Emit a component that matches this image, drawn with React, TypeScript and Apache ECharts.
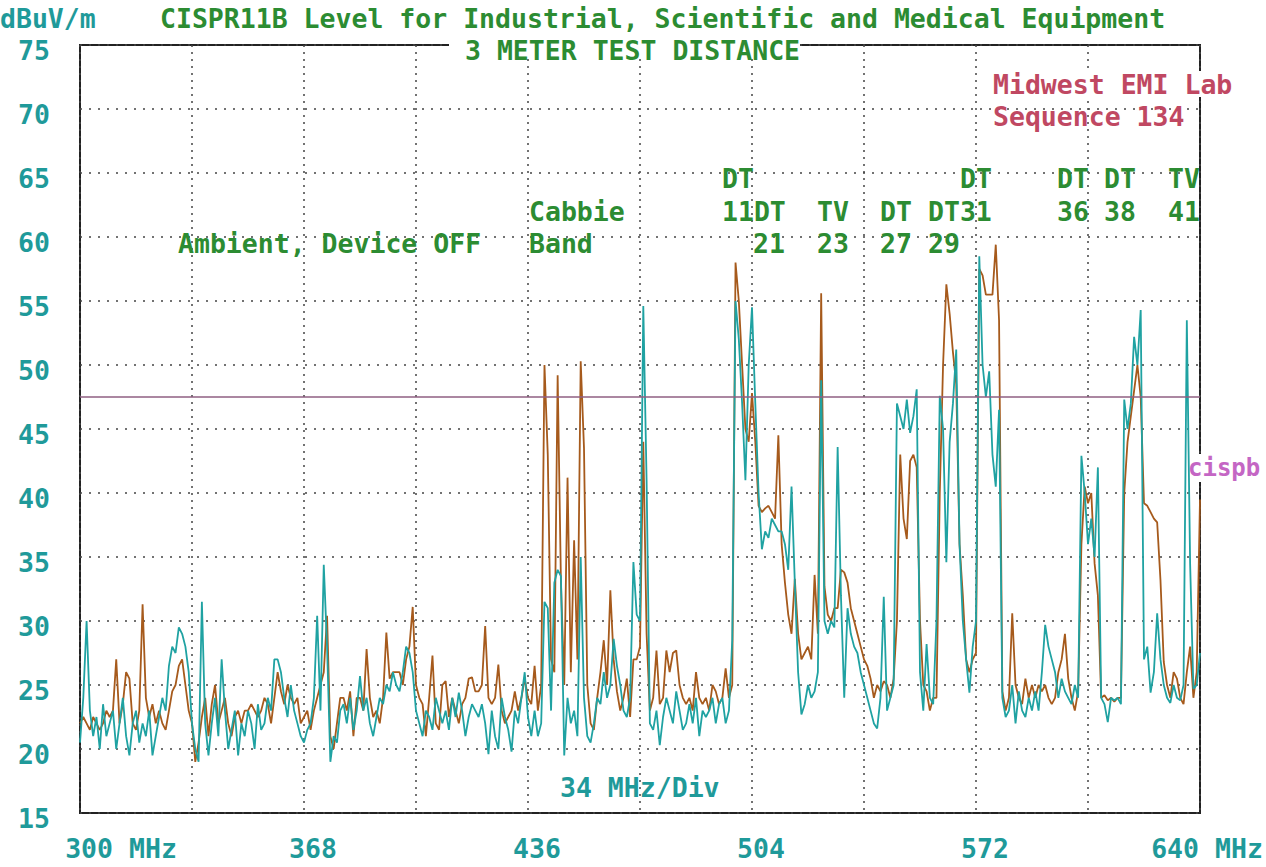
import React, { useEffect, useRef } from "react";
import * as echarts from "echarts";

// Sampling grid of the traces (MHz)
const START_MHZ = 300;
const STEP_MHZ = 1;

// Axis ticks
const X_MIN = 300;
const X_MAX = 640;
const X_DIV = 34;
const X_LABELED = [300, 368, 436, 504, 572, 640];
const Y_MIN = 15;
const Y_MAX = 75;
const Y_STEP = 5;

// CISPR 11 class B limit at 3 m (dBuV/m)
const LIMIT_DB = 47.5;

// Teal trace, one value per MHz from 300 to 640
const tealTrace = [
  20.5, 24, 30, 23, 21, 22.5, 20, 23.5, 21, 22,
  23, 20, 22, 24, 21, 19.5, 22, 23, 20.5, 22,
  21, 23, 19.5, 21, 22.5, 24, 23, 26.5, 28, 27.5,
  29.5, 29, 28, 26, 22, 20, 19, 31.5, 22, 19.5,
  22, 24, 21, 27, 23, 20, 21.5, 23, 19.5, 22,
  21, 23, 22, 20, 23.5, 21.5, 22, 24, 23, 27,
  27, 26, 24, 22.5, 25, 23, 22, 21, 20.5, 21.5,
  22, 24, 30.4, 23, 34.4, 28, 19, 21, 20.5, 23,
  23.5, 22, 24, 21.5, 23, 25.7, 23, 24, 22, 21,
  22.5, 24, 23.5, 25, 24.5, 26, 25, 24.5, 26, 28,
  27.5, 26, 23, 22, 21, 23, 22.5, 21.5, 24, 23,
  22, 23, 21.5, 24, 22.5, 24.4, 23, 21, 22.5, 23.5,
  23, 22.5, 23.5, 22, 19.6, 23, 21, 20, 24, 22.5,
  21.5, 19.8, 23, 22, 24, 26, 22.5, 21, 23, 21,
  22, 31.5, 31, 23, 33, 34, 33.5, 19.5, 24, 22,
  23, 21, 35, 24, 21, 20.5, 22, 24, 23.5, 26,
  24, 25, 28.6, 26.5, 25, 23, 22.5, 24, 34.6, 30.5,
  30, 54.6, 41, 22, 21.5, 23, 20.3, 22.5, 24, 23,
  22, 24.5, 23, 21.5, 22, 23.5, 22, 24, 21, 23,
  22.5, 23, 24, 22, 23.5, 24, 22, 23, 28.5, 55,
  52, 47, 41, 50, 54.5, 47, 40, 35.6, 37, 36.5,
  38, 37.5, 37, 37, 36, 34, 40.5, 33, 26, 22.7,
  23.5, 25, 24, 24.5, 26, 48.8, 30, 29, 30, 29.5,
  43.6, 32, 24, 31, 29, 28, 27.5, 26, 25, 24,
  23, 22, 21.6, 24, 31.9, 23, 24, 25, 47, 46,
  45, 47.3, 44.7, 46, 48.1, 26, 23, 28.2, 24, 23.5,
  30, 47.6, 45, 34.6, 44, 47, 51.2, 36, 30, 27,
  24.4, 28, 30, 58.5, 50, 47.5, 49.5, 43, 40.5, 46.5,
  24, 22.5, 23, 25, 22, 24.5, 23, 22.5, 24, 23,
  24.5, 23, 26, 29.7, 28, 27, 26, 24, 25.5, 24.5,
  24, 23.5, 25, 24, 42.9, 40, 36, 38, 35, 42,
  24, 23.5, 22.1, 24, 23.8, 24, 23.5, 47.3, 45, 47,
  52.2, 50, 54.3, 27, 28, 24.4, 26, 30.6, 27, 25,
  24, 23.6, 25, 24, 23.8, 25, 53.5, 34.5, 24.7, 25,
  27.5,
];

// Brown trace, one value per MHz from 300 to 640
const brownTrace = [
  22, 22.5, 22, 21.5, 22.5, 22, 21.5, 22, 23, 22.5,
  23, 27, 22, 23.5, 26, 25.5, 22, 21.5, 23, 31.3,
  24, 22.5, 23.5, 22, 23, 22, 21.5, 23, 24.5, 25,
  26.5, 27, 25, 23, 22, 19, 20.5, 22.5, 24, 21,
  23.5, 25, 22, 23, 24, 22, 21, 22.5, 23, 22,
  23, 23, 23.5, 23, 22.5, 23, 24, 23.5, 22, 24,
  26, 24.5, 23.5, 25, 24, 23.5, 24, 22, 22.5, 23,
  21.5, 23, 24, 25, 26, 30.4, 21, 20, 22, 24,
  24, 23, 24.5, 21, 24, 24, 23, 27.8, 24, 22.5,
  23, 22, 24, 29.1, 25.5, 26, 26, 26, 25, 27,
  28, 31.1, 25, 24, 23.5, 21, 24, 27.3, 22, 21.5,
  25, 25.3, 22.5, 24, 23, 22, 23.5, 24, 25.5, 25.6,
  24.5, 24.5, 25, 29.6, 24, 23.5, 24, 26.6, 23, 22,
  22.5, 23, 24.5, 23, 24, 25.5, 24, 23.5, 26.5, 23,
  25, 50, 43, 27, 26, 49.2, 33, 25, 41.2, 26,
  36.3, 27, 50.3, 43.5, 25, 22, 21.5, 24, 26, 28.5,
  25, 32.4, 27, 24.5, 23, 24, 25.5, 22.5, 27, 27,
  28, 44, 29, 23, 24, 27.7, 23.5, 24, 27.7, 26,
  27.5, 27.7, 25, 24, 23.5, 24, 23, 26, 24, 23.5,
  24, 23, 25, 24.5, 23.5, 24, 26.3, 24, 25, 58,
  55, 50, 45, 44, 47.8, 44, 39, 38.5, 38.8, 39,
  38.5, 38, 44.5, 36, 33, 30.5, 29, 33.3, 29, 27,
  27.5, 28, 27, 33.6, 29, 55.6, 32.7, 30.5, 30, 31,
  31, 34, 33.8, 33, 31, 30, 29, 28, 27, 26.5,
  25.5, 24, 25, 24.5, 25.3, 25, 24, 25.5, 30, 43,
  38, 36.4, 42.5, 43, 42, 30, 25, 24.5, 23, 24,
  24, 40, 50, 56.3, 54, 51, 48.5, 36, 32, 27,
  26, 27, 27.5, 57.5, 57, 55.5, 55.5, 55.5, 59.4, 53.5,
  24.5, 23, 24, 30.6, 25, 24, 23.5, 25.5, 24, 25,
  24, 25, 24.5, 25, 24, 23.5, 24, 26, 27, 29,
  25.5, 24, 23, 24.5, 36, 40.5, 39.2, 40, 34.5, 32,
  24, 24.2, 23.8, 24, 23.7, 24, 24, 40, 44, 46,
  48, 50, 47.5, 39.2, 39, 38.5, 38, 37.7, 33.2, 26.8,
  25, 24, 26, 25.5, 24, 23.5, 26, 28, 24, 26,
  39.5,
];

const FONT = '"DejaVu Sans Mono", monospace';
const FS = 26.5;
const FW = "bold";
const GREEN = "#2c8c32";
const TEAL_TXT = "#1f9a9a";
const ROSE = "#c04862";
const MAGENTA = "#c466c4";

export default function App() {
  const ref = useRef<HTMLDivElement>(null);

  useEffect(() => {
    document.body.style.margin = "0";
    const chart = echarts.init(ref.current!, null, { renderer: "svg" });
    const toPairs = (arr: number[]) =>
      arr.map((v, i) => [START_MHZ + i * STEP_MHZ, v]);

    const txt = (text: string, x: number, y: number, fill: string, size = FS) => ({
      type: "text",
      x,
      y,
      z: 20,
      style: {
        text,
        fill,
        font: `${FW} ${size}px ${FONT}`,
        align: "left",
        verticalAlign: "middle",
      },
    });
    const bg = (x: number, y: number, w: number, h: number) => ({
      type: "rect",
      z: 15,
      shape: { x, y, width: w, height: h },
      style: { fill: "#ffffff" },
    });
    const lbl = (pad: number) => ({
      color: TEAL_TXT,
      fontFamily: FONT,
      fontSize: FS,
      fontWeight: FW,
      padding: [0, 0, 0, pad],
    });

    chart.setOption({
      animation: false,
      backgroundColor: "#ffffff",
      grid: {
        left: 80,
        right: 66,
        top: 45,
        bottom: 54,
        show: true,
        borderColor: "#222222",
        borderWidth: 2,
        backgroundColor: "transparent",
        containLabel: false,
        outerBoundsMode: "none",
      },
      xAxis: {
        type: "value",
        min: X_MIN,
        max: X_MAX,
        interval: X_DIV,
        axisLine: { show: false },
        axisTick: { show: false },
        splitLine: {
          show: true,
          lineStyle: { color: "#444444", width: 1.5, type: [2, 5] },
        },
        axisLabel: {
          margin: 22,
          color: TEAL_TXT,
          fontFamily: FONT,
          fontSize: FS,
          fontWeight: FW,
          showMinLabel: true,
          showMaxLabel: true,
          hideOverlap: false,
          formatter: (v: number) => {
            const r = Math.round(v);
            if (r === X_LABELED[0]) return `{a|${r} MHz}`;
            if (r === X_LABELED[X_LABELED.length - 1]) return `{b|${r} MHz}`;
            if (X_LABELED.includes(r)) return `{c|${r}}`;
            return "";
          },
          rich: { a: lbl(82), b: lbl(14), c: lbl(18) },
        },
      },
      yAxis: {
        type: "value",
        min: Y_MIN,
        max: Y_MAX,
        interval: Y_STEP,
        axisLine: { show: false },
        axisTick: { show: false },
        splitLine: {
          show: true,
          lineStyle: { color: "#444444", width: 1.5, type: [2, 7] },
        },
        axisLabel: {
          margin: 30,
          color: TEAL_TXT,
          fontFamily: FONT,
          fontSize: FS,
          fontWeight: FW,
          formatter: (v: number) => `{v|${Math.round(v)}}`,
          rich: {
            v: {
              color: TEAL_TXT,
              fontFamily: FONT,
              fontSize: FS,
              fontWeight: FW,
              padding: [10, 0, 0, 0],
            },
          },
        },
      },
      series: [
        {
          name: "Device",
          type: "line",
          data: toPairs(brownTrace),
          showSymbol: false,
          symbol: "none",
          z: 2,
          lineStyle: { color: "#a65a1c", width: 1.8 },
          itemStyle: { color: "#a65a1c" },
        },
        {
          name: "Ambient",
          type: "line",
          data: toPairs(tealTrace),
          showSymbol: false,
          symbol: "none",
          z: 3,
          lineStyle: { color: "#1fa2a2", width: 1.8 },
          itemStyle: { color: "#1fa2a2" },
          markLine: {
            silent: true,
            symbol: "none",
            label: { show: false },
            lineStyle: { color: "#8f5f82", width: 1.5, type: "solid" },
            data: [{ yAxis: LIMIT_DB }],
          },
        },
      ],
      graphic: [
        bg(449, 36, 351, 20),
        bg(990, 71, 246, 26),
        bg(1190, 454, 76, 28),
        txt("dBuV/m", 0, 18, TEAL_TXT),
        txt("CISPR11B Level for Industrial, Scientific and Medical Equipment", 160, 18, GREEN),
        txt("3 METER TEST DISTANCE", 465, 50, GREEN),
        txt("Midwest EMI Lab", 993, 84, ROSE),
        txt("Sequence 134", 993, 116, ROSE),
        txt("Ambient, Device OFF", 178, 243, GREEN),
        txt("Cabbie", 529, 211, GREEN),
        txt("Band", 529, 243, GREEN),
        txt("DT", 722, 178, GREEN),
        txt("DT", 960, 178, GREEN),
        txt("DT", 1057, 178, GREEN),
        txt("DT", 1104, 178, GREEN),
        txt("TV", 1168, 178, GREEN),
        txt("11DT", 722, 211, GREEN),
        txt("TV", 817, 211, GREEN),
        txt("DT", 880, 211, GREEN),
        txt("DT31", 928, 211, GREEN),
        txt("36", 1057, 211, GREEN),
        txt("38", 1104, 211, GREEN),
        txt("41", 1168, 211, GREEN),
        txt("21", 753, 243, GREEN),
        txt("23", 817, 243, GREEN),
        txt("27", 880, 243, GREEN),
        txt("29", 928, 243, GREEN),
        txt("34 MHz/Div", 560, 787, TEAL_TXT),
        txt("cispb", 1188, 468, MAGENTA, 24),
      ],
    });

    return () => chart.dispose();
  }, []);

  return <div ref={ref} style={{ width: 1266, height: 867 }} />;
}
